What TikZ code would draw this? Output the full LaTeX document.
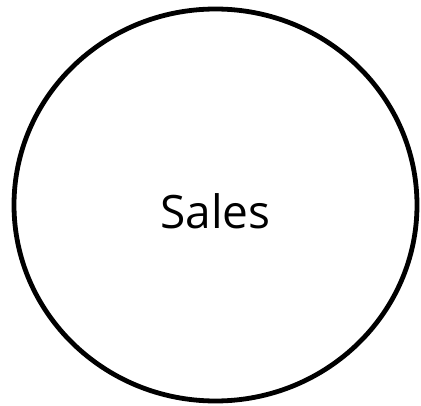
\documentclass[tikz,border=0pt]{standalone}
\usepackage{fontspec}
\setmainfont{Open Sans}
\usepackage{tikz}
\usetikzlibrary{shapes.geometric, positioning}

\begin{document}
\begin{tikzpicture}[x=1pt, y=1pt,
        dept/.style = {ellipse, draw=black, line width=4.8pt, fill=white, minimum width=403pt, minimum height=392pt, inner sep=0pt},
        dept_label/.style = {font=\fontsize{46}{54}\selectfont, inner sep=0pt}
    ]
    \useasboundingbox (0,0) rectangle (421,405);

    % --- Department ---
    \node[dept] (sales) at (215.5, 200) {};
    \node[dept_label] (sales_txt) at ([yshift=-6pt]sales.center) {Sales};

    \end{tikzpicture}
\end{document}
